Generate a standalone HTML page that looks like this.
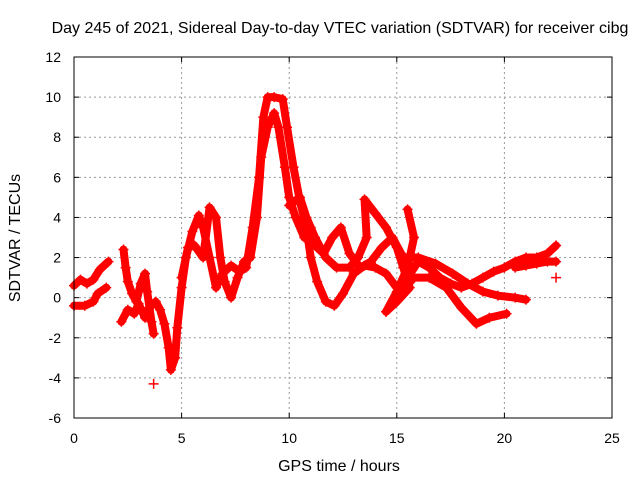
<!DOCTYPE html>
<html><head><meta charset="utf-8"><style>
body{margin:0;background:#fff}
svg{display:block;font-family:"Liberation Sans",sans-serif}
</style></head><body>
<svg id="chart" width="640" height="480">
<text x="340" y="33" font-size="16" text-anchor="middle">Day 245 of 2021, Sidereal Day-to-day VTEC variation (SDTVAR) for receiver cibg</text>
<text x="339" y="471" font-size="16" text-anchor="middle">GPS time / hours</text>
<text transform="translate(20,238) rotate(-90)" font-size="16" text-anchor="middle">SDTVAR / TECUs</text>
<g id="grid"></g><g id="marks"></g>
<rect x="74" y="57" width="538" height="361" fill="none" stroke="#000"/>
<g id="ticks"></g>
</svg>
<script>
const xTicks=[0,5,10,15,20,25];
const yTicks=[-6,-4,-2,0,2,4,6,8,10,12];
const trackA=[[0,0.6],[0.3,0.9],[0.6,0.7],[0.9,0.9],[1.2,1.4],[1.6,1.8]];
const trackA2=[[0,-0.4],[0.5,-0.4],[0.9,-0.2],[1.1,0.2],[1.5,0.5]];
const trackB=[[2.3,2.4],[2.4,1.5],[2.5,0.8],[2.7,0.2],[2.9,-0.2],[3.1,0.7],[3.3,1.2],[3.4,0.3],[3.6,-1.2],[3.7,-1.8]];
const trackB2=[[2.2,-1.2],[2.5,-0.6],[2.8,-0.8],[3.0,-0.3],[3.3,-1.0],[3.5,-0.5],[3.8,-0.2],[4.0,-0.6],[4.2,-1.3],[4.4,-2.5],[4.5,-3.6],[4.7,-3.0],[4.8,-1.5],[5.0,0.5],[5.2,2.0],[5.5,3.3],[5.8,4.1],[6.0,3.5],[6.3,2.0],[6.6,0.5],[6.9,1.2],[7.3,1.6],[7.7,1.3],[8.0,1.5],[8.3,3.5],[8.6,6],[8.8,9],[9.0,10],[9.3,10],[9.7,9.9],[9.9,8.5],[10.2,6.5],[10.5,4.8],[10.8,3.5],[11.0,2.0],[11.3,0.8],[11.7,-0.2],[12.1,-0.4],[12.5,0.2],[13.0,1.2],[13.5,1.6],[14.0,1.5],[14.5,1.2],[15.0,0.5]];
const trackC=[[5.0,1.0],[5.3,2.5],[5.6,2.6],[6.0,2.0],[6.3,4.5],[6.6,4.0],[6.8,2.0],[7.0,0.8],[7.3,0.0],[7.6,1.0],[7.9,1.8],[8.2,2.0],[8.5,4],[8.7,7],[9.0,8.5],[9.3,9.2],[9.5,8.5],[9.8,6.5],[10.0,5.0],[10.3,4.0],[10.7,3.0],[11.0,3.5],[11.3,2.5],[11.6,2.2],[12.0,3.0],[12.4,3.5],[12.8,2.2],[13.3,1.5],[13.8,1.8],[14.3,2.5],[14.8,3.0],[15.2,2.2],[15.5,1.0],[16.0,1.8],[16.5,1.5],[17.0,1.0],[17.5,0.7],[18.0,0.5],[18.5,0.7],[19.0,1.0],[19.5,1.3],[20.0,1.5],[20.5,1.8],[21.0,2.0],[21.5,2.0],[22.0,2.2],[22.4,2.6]];
const trackD=[[10.0,4.6],[10.5,5.0],[10.8,4.0],[11.2,3.0],[11.7,2.0],[12.2,1.5],[12.8,1.5],[13.2,2.0],[13.6,3.0],[13.5,4.9],[14.0,4.2],[14.5,3.5],[15.0,2.5],[15.3,1.5],[15.6,0.5],[15.0,-0.2],[14.5,-0.7]];
const trackE=[[14.5,-0.7],[15.0,0.3],[15.5,1.5],[15.8,3.0],[15.5,4.4]];
const trackF=[[15.2,0.3],[15.8,1.0],[16.5,1.0],[17.3,0.5],[18.0,-0.5],[18.7,-1.3],[19.3,-1.0],[20.1,-0.8]];
const trackG=[[15.5,2.0],[16.0,2.0],[16.8,1.7],[17.6,1.2],[18.3,0.7],[19.0,0.3],[19.7,0.1],[20.5,0.0],[21.0,-0.1]];
const trackH=[[20.5,1.5],[21.0,1.6],[21.5,1.7],[22.0,1.8],[22.4,1.8]];
const tracks=[trackA,trackA2,trackB,trackB2,trackC,trackD,trackE,trackF,trackG,trackH];
const singles=[[3.7,-4.3],[22.4,2.6],[22.4,1.0]];
const X=v=>74+v*538/25, Y=v=>418-(v+6)*361/18;
const NS="http://www.w3.org/2000/svg";
const grid=document.getElementById('grid'),ticks=document.getElementById('ticks'),marks=document.getElementById('marks');
function mk(t,a,p){const e=document.createElementNS(NS,t);for(const k in a)e.setAttribute(k,a[k]);p.appendChild(e);return e;}
xTicks.forEach(v=>{
 if(v>0&&v<25){const g=mk('line',{x1:X(v),x2:X(v),y1:57,y2:418,stroke:'#999','stroke-dasharray':'2,3'},grid);
 
 }
 mk('line',{x1:X(v),x2:X(v),y1:418,y2:413,stroke:'#000'},ticks);
 mk('line',{x1:X(v),x2:X(v),y1:57,y2:62,stroke:'#000'},ticks);
 const t=mk('text',{x:X(v),y:443,'font-size':14,'text-anchor':'middle'},ticks);t.textContent=v;
 
 
});
yTicks.forEach(v=>{
 if(v>-6&&v<12){const g=mk('line',{x1:74,x2:612,y1:Y(v),y2:Y(v),stroke:'#999','stroke-dasharray':'2,3'},grid);
 
 }
 mk('line',{x1:74,x2:79,y1:Y(v),y2:Y(v),stroke:'#000'},ticks);
 mk('line',{x1:612,x2:607,y1:Y(v),y2:Y(v),stroke:'#000'},ticks);
 const t=mk('text',{x:61,y:Y(v)+5,'font-size':14,'text-anchor':'end'},ticks);t.textContent=v;
 
 
});
function plus(x,y){
 const p=mk('path',{d:`M${X(x)-5},${Y(y)}h10M${X(x)},${Y(y)-5}v10`,stroke:'#f00','stroke-width':1.5},marks);
 
 
}
tracks.forEach(tr=>{
 const l=mk('polyline',{points:tr.map(p=>X(p[0])+','+Y(p[1])).join(' '),fill:'none',stroke:'#f00','stroke-width':8,'stroke-linejoin':'round','stroke-linecap':'round'},marks);
 
 
 tr.forEach(p=>plus(p[0],p[1]));
});
singles.forEach(p=>plus(p[0],p[1]));
</script>
</body></html>
